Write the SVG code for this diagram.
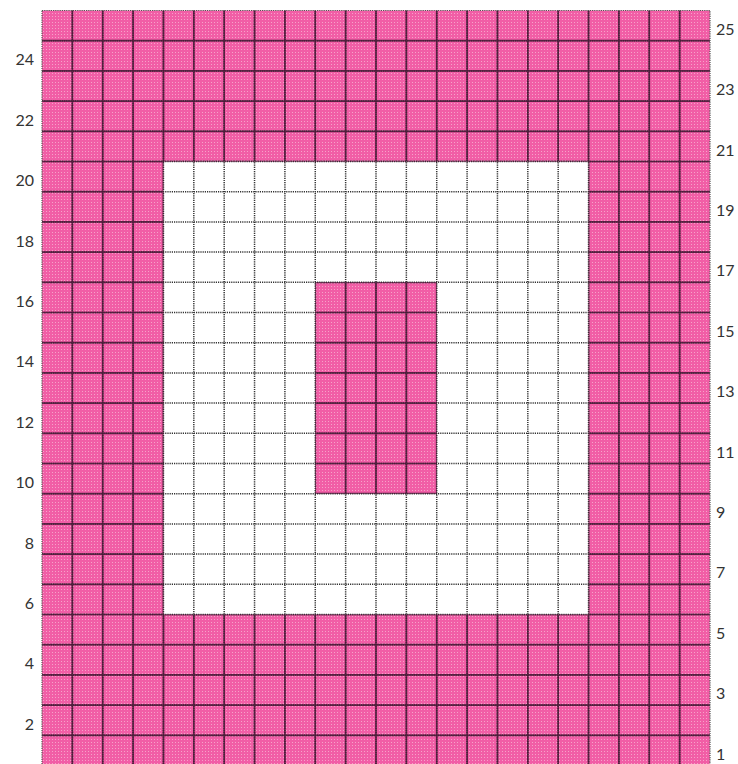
<svg xmlns="http://www.w3.org/2000/svg" width="738" height="764" viewBox="0 0 738 764">
<style>
.lbl{font-family:Lato,"Liberation Sans",sans-serif;font-size:16px;fill:#333;}
.l{text-anchor:end;}
.dot{fill:none;stroke:#333;stroke-width:1.5;stroke-dasharray:1.2 1;}
.solid{fill:none;stroke:#4a1a38;stroke-width:1.7;opacity:0.85;}
</style>
<defs>
<pattern id="pk" width="3" height="3" patternUnits="userSpaceOnUse">
<rect width="3" height="3" fill="#f15ea6"/>
<rect x="1" y="1" width="1" height="1" fill="#f6a2c9"/>
</pattern>
<clipPath id="pinkClip">
<path clip-rule="evenodd" d="M42 10.5H710V765.5H42Z M163.45 161.5V614.5H588.55V161.5Z M315.27 282.3H436.73V493.7H315.27Z"/>
</clipPath>
<path id="grid" d="M72.36 10.5V765.5M102.73 10.5V765.5M133.09 10.5V765.5M163.45 10.5V765.5M193.82 10.5V765.5M224.18 10.5V765.5M254.55 10.5V765.5M284.91 10.5V765.5M315.27 10.5V765.5M345.64 10.5V765.5M376 10.5V765.5M406.36 10.5V765.5M436.73 10.5V765.5M467.09 10.5V765.5M497.45 10.5V765.5M527.82 10.5V765.5M558.18 10.5V765.5M588.55 10.5V765.5M618.91 10.5V765.5M649.27 10.5V765.5M679.64 10.5V765.5M42 40.7H710M42 70.9H710M42 101.1H710M42 131.3H710M42 161.5H710M42 191.7H710M42 221.9H710M42 252.1H710M42 282.3H710M42 312.5H710M42 342.7H710M42 372.9H710M42 403.1H710M42 433.3H710M42 463.5H710M42 493.7H710M42 523.9H710M42 554.1H710M42 584.3H710M42 614.5H710M42 644.7H710M42 674.9H710M42 705.1H710M42 735.3H710"/>
</defs>
<g id="chart">
<rect x="42" y="10.5" width="668" height="755" fill="#fff"/>
<path id="pink" fill="url(#pk)" fill-rule="evenodd" d="M42 10.5H710V765.5H42Z M163.45 161.5V614.5H588.55V161.5Z M315.27 282.3H436.73V493.7H315.27Z"/>
<use href="#grid" class="dot"/>
<g clip-path="url(#pinkClip)"><use href="#grid" class="solid"/></g>
<rect x="42" y="10.5" width="668" height="755" fill="none" stroke="#555" stroke-width="1.2" stroke-dasharray="1.2 1"/>
</g>
<g id="labels-left">
<text class="lbl l" x="34" y="65.4">24</text>
<text class="lbl l" x="34" y="125.8">22</text>
<text class="lbl l" x="34" y="186.2">20</text>
<text class="lbl l" x="34" y="246.6">18</text>
<text class="lbl l" x="34" y="307">16</text>
<text class="lbl l" x="34" y="367.4">14</text>
<text class="lbl l" x="34" y="427.8">12</text>
<text class="lbl l" x="34" y="488.2">10</text>
<text class="lbl l" x="34" y="548.6">8</text>
<text class="lbl l" x="34" y="609">6</text>
<text class="lbl l" x="34" y="669.4">4</text>
<text class="lbl l" x="34" y="729.8">2</text>
</g>
<g id="labels-right">
<text class="lbl" x="716" y="34.8">25</text>
<text class="lbl" x="716" y="95.2">23</text>
<text class="lbl" x="716" y="155.6">21</text>
<text class="lbl" x="716" y="216">19</text>
<text class="lbl" x="716" y="276.4">17</text>
<text class="lbl" x="716" y="336.8">15</text>
<text class="lbl" x="716" y="397.2">13</text>
<text class="lbl" x="716" y="457.6">11</text>
<text class="lbl" x="716" y="518">9</text>
<text class="lbl" x="716" y="578.4">7</text>
<text class="lbl" x="716" y="638.8">5</text>
<text class="lbl" x="716" y="699.2">3</text>
<text class="lbl" x="716" y="759.6">1</text>
</g>
</svg>
